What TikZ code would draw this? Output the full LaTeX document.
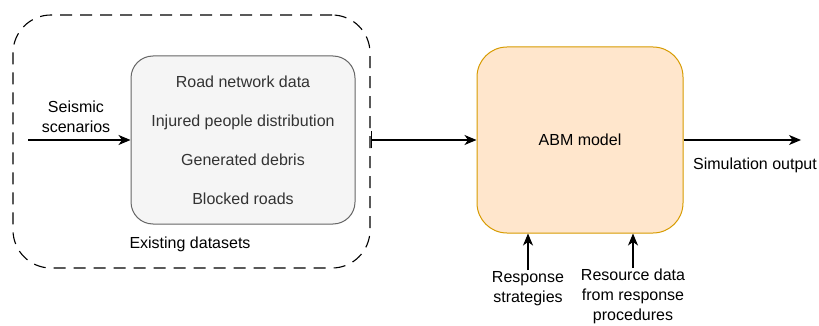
\documentclass[tikz,border=0pt]{standalone}
\usepackage{fontspec}
\setmainfont{Liberation Sans}
\usetikzlibrary{arrows.meta,calc}
\definecolor{grayfill}{HTML}{F5F5F5}
\definecolor{graystroke}{HTML}{666666}
\definecolor{orangefill}{HTML}{FFE6CC}
\definecolor{orangestroke}{HTML}{D79B00}
\definecolor{darktext}{HTML}{333333}
\tikzset{
  x=1pt, y=-1pt,
  tipstyle/.style={-{Stealth[length=12pt,width=10pt,inset=3.5pt]}},
  arr/.style={line width=1.1pt, tipstyle},
  lbl/.style={font=\fontsize{16}{20}\selectfont, align=center, inner sep=1pt},
  databox/.style={draw=graystroke, fill=grayfill, line width=1pt, rounded corners=22pt,
    minimum width=224pt, minimum height=168pt, align=center, text=darktext,
    font=\fontsize{16}{39}\selectfont},
  groupbox/.style={draw, dash pattern=on 12pt off 8pt, line width=1.1pt, rounded corners=38pt,
    minimum width=357pt, minimum height=253pt},
  modelbox/.style={draw=orangestroke, fill=orangefill, line width=1pt, rounded corners=30pt,
    minimum width=206pt, minimum height=186pt, font=\fontsize{16}{20}\selectfont},
}
\begin{document}
\begin{tikzpicture}
\useasboundingbox (0,0) rectangle (819,326);

% group of existing datasets
\node[groupbox] (group) at (191.5,141.5) {};
\node[databox] (data) at (243,140) {Road network data\\Injured people distribution\\Generated debris\\Blocked roads};
\node[lbl] (existing) at (190,244) {Existing datasets};

% seismic input
\node[lbl] (seismic) at (76,117) {Seismic\\scenarios};
\coordinate (seisstart) at (28,140);
\draw[arr] (seisstart) -- (data.west);

% ABM model
\node[modelbox] (abm) at (580,140) {ABM model};
\draw[line width=1.1pt, {Bar[width=17pt]}-{Stealth[length=12pt,width=10pt,inset=3.5pt]}] (group.east |- abm.west) -- (abm.west);

% output
\coordinate (outend) at (801,140);
\draw[arr] (abm.east) -- (outend);
\node[lbl] (simout) at (755,165) {Simulation output};

% inputs from below
\node[lbl, anchor=north] (strat) at (528,270) {Response\\strategies};
\node[lbl, anchor=north] (resdata) at (633,268) {Resource data\\from response\\procedures};
\draw[arr] (strat.north) -- (strat.north |- abm.south);
\draw[arr] (resdata.north) -- (resdata.north |- abm.south);
\end{tikzpicture}
\end{document}
